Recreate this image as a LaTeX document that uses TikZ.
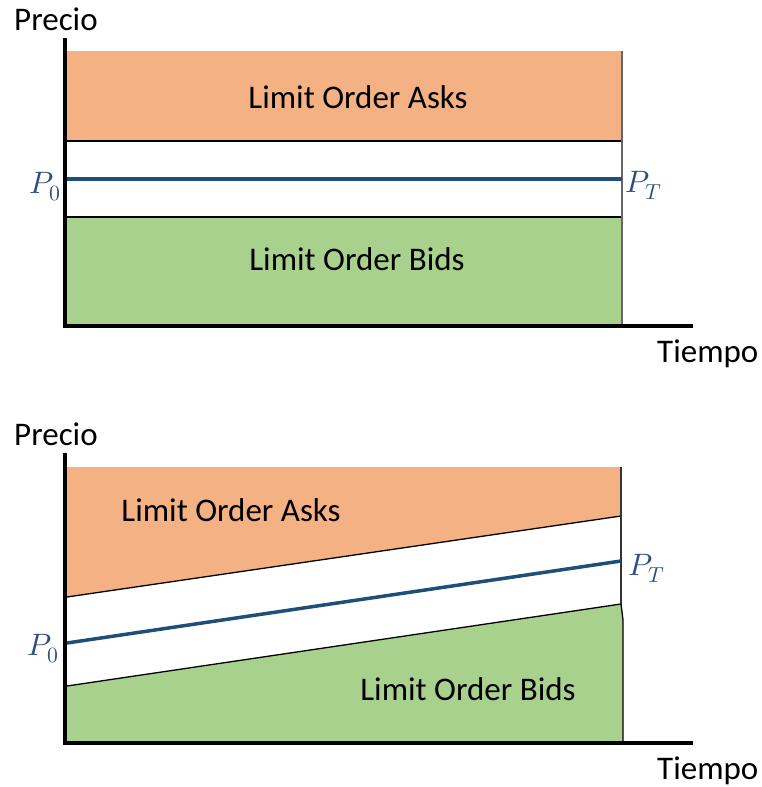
\documentclass[tikz,border=0pt]{standalone}
\usepackage{fontspec}
\usepackage{unicode-math}
\setmainfont{Carlito}
\setmathfont{Latin Modern Math}
\definecolor{askfill}{HTML}{F4B183}
\definecolor{bidfill}{HTML}{A9D18E}
\definecolor{pline}{HTML}{1F4E79}
\definecolor{plabel}{HTML}{2F4E80}
\tikzset{
  lbl/.style={inner sep=0pt, anchor=base, font=\fontsize{33}{40}\selectfont},
  plbl/.style={inner sep=0pt, anchor=base west, text=plabel, font=\fontsize{31}{37}\selectfont},
  axis/.style={line width=4pt, line cap=rect},
  edge/.style={line width=1.3pt, black},
  price/.style={line width=3.5pt, pline},
}
\begin{document}
\begin{tikzpicture}[x=1pt,y=-1pt]
\useasboundingbox (0,0) rectangle (761,787);
% ---------- top panel ----------
\fill[askfill] (67,51) rectangle (622,141);
\fill[bidfill] (67,217) rectangle (622,326);
\draw[edge] (67,141) -- (622,141);
\draw[edge] (67,217) -- (622,217);
\draw[line width=1.3pt, black!60] (622,51) -- (622,326);
\draw[price] (67,179) -- (622,179);
\draw[axis] (65,40) -- (65,326) -- (691,326);
\node[lbl] (asks1) at (358,108) {Limit Order Asks};
\node[lbl] (bids1) at (357,270) {Limit Order Bids};
\node[lbl, anchor=base west] (precio1) at (14,30) {Precio};
\node[lbl, anchor=base west] (tiempo1) at (657,362) {Tiempo};
\node[plbl] (p01) at (29,193) {$P_0$};
\node[plbl] (pt1) at (625,192) {$P_T$};
% ---------- bottom panel ----------
\fill[askfill] (67,467) -- (621,467) -- (621,516) -- (67,597) -- cycle;
\fill[bidfill] (67,686) -- (621,604) -- (623,620) -- (623,743) -- (67,743) -- cycle;
\draw[edge] (67,597) -- (621,516);
\draw[edge] (67,686) -- (621,604) -- (623,620) -- (623,743);
\draw[line width=1.3pt, black!80] (621,467) -- (621,604);
\draw[price] (67,643) -- (621,561);
\draw[axis] (65,455) -- (65,743) -- (691,743);
\node[lbl] (asks2) at (231,521) {Limit Order Asks};
\node[lbl] (bids2) at (468,700) {Limit Order Bids};
\node[lbl, anchor=base west] (precio2) at (14,445) {Precio};
\node[lbl, anchor=base west] (tiempo2) at (657,779) {Tiempo};
\node[plbl] (p02) at (27,655) {$P_0$};
\node[plbl] (pt2) at (628,575) {$P_T$};
\end{tikzpicture}
\end{document}
